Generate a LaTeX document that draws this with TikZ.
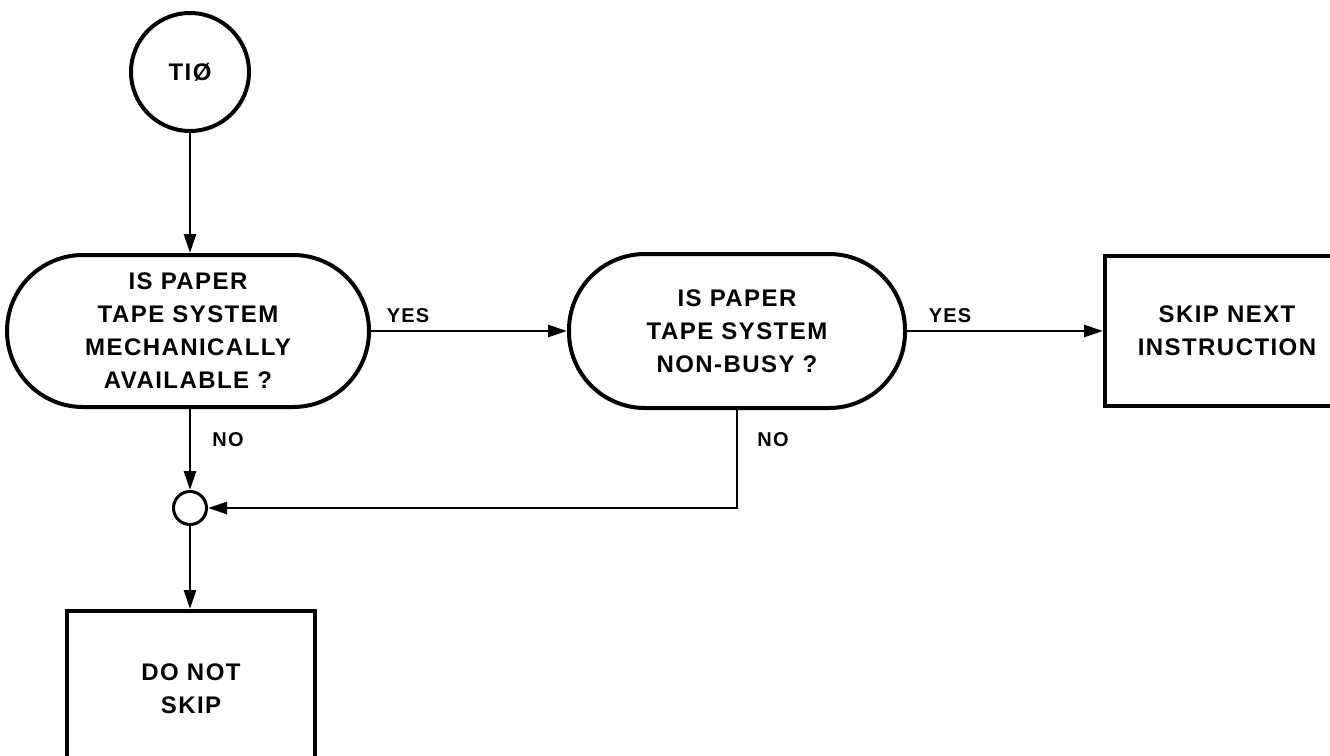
\documentclass[tikz,border=0pt]{standalone}
\usepackage{fontspec}
\setmainfont{Liberation Sans}[LetterSpace=6]
\usetikzlibrary{arrows.meta}
\begin{document}
\begin{tikzpicture}[x=1pt,y=-1pt,
  txt/.style={font=\fontsize{24}{33}\selectfont\bfseries, align=center, inner sep=0pt},
  term/.style={circle, draw, line width=4pt, minimum size=118pt, txt},
  jct/.style={circle, draw, line width=3pt, minimum size=33pt, inner sep=0pt},
  decide/.style={rectangle, rounded corners=76pt, draw, line width=4pt, txt},
  proc/.style={rectangle, draw, line width=4pt, txt},
  conn/.style={line width=2.8pt, -{Triangle[length=19pt,width=12pt]}},
  lbl/.style={font=\fontsize{20}{24}\selectfont\bfseries, inner sep=0pt}]
\path[use as bounding box] (0,0) rectangle (1330,755);
\clip (0,0) rectangle (1330,755);
\fill[white] (0,0) rectangle (1330,755);
\node[term] (ti) at (190,72) {TI\O};
\node[decide, minimum width=362pt, minimum height=152pt] (d1) at (188,331) {IS PAPER\\TAPE SYSTEM\\MECHANICALLY\\AVAILABLE ?};
\node[decide, minimum width=336pt, minimum height=154pt] (d2) at (737,331) {IS PAPER\\TAPE SYSTEM\\NON-BUSY ?};
\node[proc, minimum width=244pt, minimum height=150pt] (skip) at (1227,331) {SKIP NEXT\\INSTRUCTION};
\node[jct] (j) at (190,508) {};
\node[proc, minimum width=248pt, minimum height=156pt] (dns) at (191,689) {DO NOT\\SKIP};
\draw[conn] (ti.south) -- (ti.south |- d1.north);
\draw[conn] (d1.east) -- (d2.west);
\draw[conn] (d2.east) -- (skip.west);
\draw[conn] (j |- d1.south) -- (j.north);
\draw[conn] (d2.south) |- (j.east);
\draw[conn] (j.south) -- (dns.north -| j.south);
\node[lbl] (yes1) at (408,316) {YES};
\node[lbl] (yes2) at (950,316) {YES};
\node[lbl] (no1) at (228,440) {NO};
\node[lbl] (no2) at (773,440) {NO};
\end{tikzpicture}
\end{document}
